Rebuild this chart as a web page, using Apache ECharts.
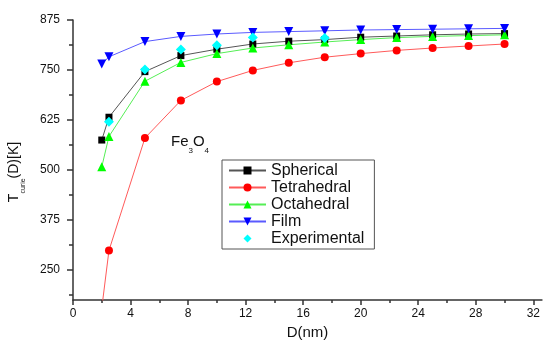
<!DOCTYPE html>
<html>
<head>
<meta charset="utf-8">
<script src="https://cdn.jsdelivr.net/npm/echarts@6/dist/echarts.min.js"></script>
<style>
  html, body { margin: 0; padding: 0; background: #fff; }
  #chart { width: 543px; height: 345px; }
</style>
</head>
<body>
<div id="chart"></div>
<script>
  // particle size D (nm)
  const dValues = [2, 2.5, 5, 7.5, 10, 12.5, 15, 17.5, 20, 22.5, 25, 27.5, 30]
  const spherical = [575, 632, 746, 786, 802, 815, 822, 826, 832, 835, 838, 840, 841]
  const tetrahedral = [155, 299, 580, 674, 721, 749, 768, 782, 791, 799, 805, 810, 815]
  const octahedral = [508, 584, 722, 769, 791, 805, 813, 820, 826, 831, 834, 836, 838]
  const film = [765, 783, 821, 834, 840, 844, 846, 848, 850, 851, 852, 853, 854]
  const expD = [2.5, 5, 7.5, 10, 12.5, 17.5]
  const experimental = [621, 751, 801, 812, 831, 830]

  const xLabels = [0, 4, 8, 12, 16, 20, 24, 28, 32]
  const xMinor = [2, 6, 10, 14, 18, 22, 26, 30]
  const yLabels = [250, 375, 500, 625, 750, 875]
  const yMinor = [187.5, 312.5, 437.5, 562.5, 687.5, 812.5]

  const font = 'Liberation Sans, Arial, sans-serif'

  function pairs(xs, ys) {
    return xs.map((x, i) => [x, ys[i]])
  }

  function lineSeries(name, xs, data, symbol, size, color, lineColor) {
    return {
      name: name,
      type: 'line',
      data: pairs(xs, data),
      symbol: symbol,
      symbolSize: size,
      itemStyle: { color: color },
      lineStyle: lineColor ? { color: lineColor, width: 1 } : { width: 0, opacity: 0 },
      clip: true,
      z: 3
    }
  }

  const mychart = echarts.init(document.getElementById('chart'))
  mychart.setOption({
    animation: false,
    grid: { left: 73, right: 0, top: 20, bottom: 42 },
    xAxis: [
      {
        type: 'value',
        min: 0,
        max: 32.6,
        name: 'D(nm)',
        nameLocation: 'middle',
        nameGap: 24,
        nameTextStyle: { fontFamily: font, fontSize: 15, color: '#111' },
        axisLine: { lineStyle: { color: '#333', width: 1.5 } },
        axisTick: { customValues: xLabels, length: 5, lineStyle: { color: '#333', width: 1.5 } },
        axisLabel: { customValues: xLabels, margin: 8, fontFamily: font, fontSize: 12, color: '#111' },
        splitLine: { show: false }
      },
      {
        type: 'value',
        position: 'bottom',
        min: 0,
        max: 32.6,
        axisLine: { show: false },
        axisTick: { customValues: xMinor, length: 3, lineStyle: { color: '#333', width: 1.5 } },
        axisLabel: { show: false },
        splitLine: { show: false }
      }
    ],
    yAxis: [
      {
        type: 'value',
        min: 175,
        max: 875,
        axisLine: { show: true, lineStyle: { color: '#333', width: 1.5 } },
        axisTick: { show: true, customValues: yLabels, length: 6, lineStyle: { color: '#333', width: 1.5 } },
        axisLabel: { customValues: yLabels, margin: 13, fontFamily: font, fontSize: 12, color: '#111' },
        splitLine: { show: false }
      },
      {
        type: 'value',
        position: 'left',
        min: 175,
        max: 875,
        axisLine: { show: false },
        axisTick: { show: true, customValues: yMinor, length: 4, lineStyle: { color: '#333', width: 1.5 } },
        axisLabel: { show: false },
        splitLine: { show: false }
      }
    ],
    legend: {
      orient: 'vertical',
      left: 222,
      top: 160,
      padding: [2, 10, 2, 6],
      itemGap: 0,
      itemWidth: 37,
      itemHeight: 10,
      borderColor: '#555',
      borderWidth: 1,
      borderRadius: 0,
      textStyle: { fontFamily: font, fontSize: 16, lineHeight: 17, color: '#111' },
      data: ['Spherical', 'Tetrahedral', 'Octahedral', 'Film', 'Experimental']
    },
    graphic: [
      {
        type: 'text',
        left: 171,
        top: 134,
        style: {
          text: '{n|Fe}{s|3}{n|O}{s|4}',
          fill: '#111',
          rich: {
            n: { fontFamily: font, fontSize: 15, lineHeight: 15, padding: [0, 0, 6, 0], verticalAlign: 'bottom' },
            s: { fontFamily: font, fontSize: 8, lineHeight: 8, verticalAlign: 'bottom' }
          }
        }
      },
      {
        type: 'text',
        x: 20,
        y: 172,
        rotation: Math.PI / 2,
        style: {
          text: '{n|T}{s|curie}{n|(D)[K]}',
          fill: '#111',
          align: 'center',
          verticalAlign: 'middle',
          rich: {
            n: { fontFamily: font, fontSize: 14, lineHeight: 14, padding: [0, 0, 6, 0], verticalAlign: 'bottom' },
            s: { fontFamily: font, fontSize: 7, lineHeight: 7, verticalAlign: 'bottom' }
          }
        }
      }
    ],
    series: [
      lineSeries('Spherical', dValues, spherical, 'rect', 7, '#000', '#555'),
      lineSeries('Tetrahedral', dValues, tetrahedral, 'circle', 8, '#ff0000', '#ff5a5a'),
      lineSeries('Octahedral', dValues, octahedral, 'triangle', 9, '#00ff00', '#55ee55'),
      lineSeries('Film', dValues, film, 'path://M0,0 L10,0 L5,9 Z', 9, '#0000ff', '#5a5aff'),
      // measured points only, no connecting line
      lineSeries('Experimental', expD, experimental, 'diamond', 10, '#00ffff', null)
    ]
  })
</script>
</body>
</html>
